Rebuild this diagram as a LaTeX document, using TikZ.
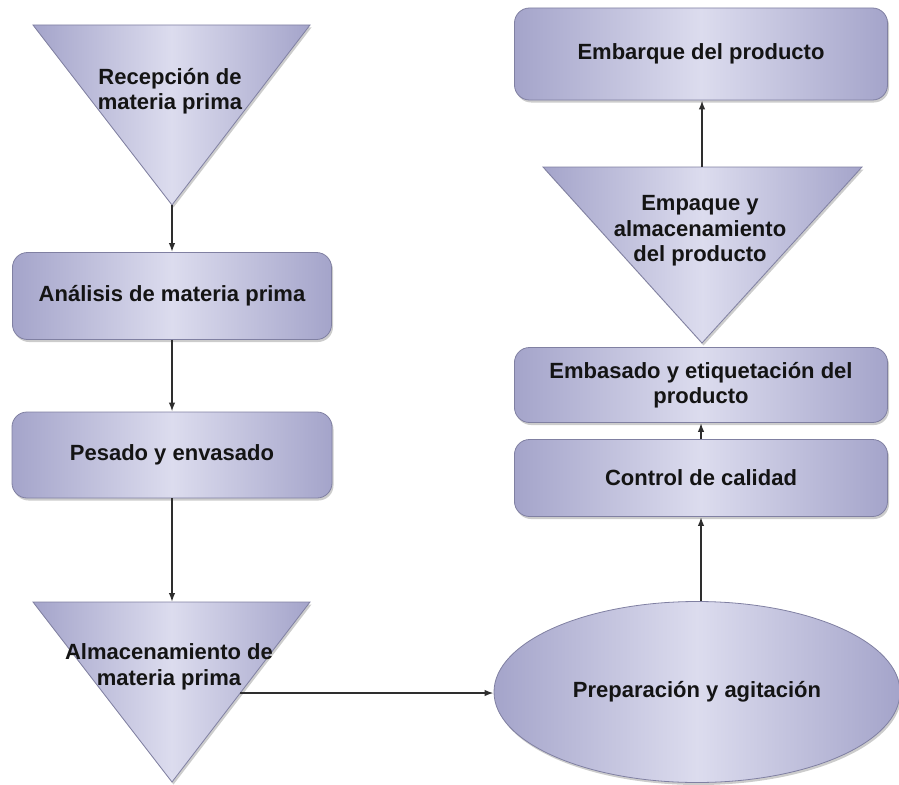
\documentclass[tikz,border=0pt]{standalone}
\usepackage{fontspec}
\setmainfont{Liberation Sans}
\usetikzlibrary{shapes.geometric,shadows,arrows.meta}
\definecolor{edgeL}{HTML}{A4A4CA}
\definecolor{midC}{HTML}{DCDCEE}
\definecolor{bord}{HTML}{8080A2}
\definecolor{arr}{HTML}{2E2E2E}
\begin{document}
\begin{tikzpicture}[x=1pt,y=1pt,
  fillgrad/.style={left color=edgeL,right color=edgeL,middle color=midC},
  shapeline/.style={draw=bord, line width=0.8pt, drop shadow={shadow xshift=1.5pt,shadow yshift=-2.5pt,opacity=0.4}},
  lbl/.style={font=\fontsize{22}{25.5}\selectfont\bfseries, text=black!92, align=center},
  stepbox/.style={shapeline, fillgrad, rounded corners=15pt, lbl, inner sep=0pt},
  conn/.style={-{Latex[length=9pt,width=6.5pt]}, line width=1.6pt, draw=arr}
]
\useasboundingbox (0,0) rectangle (899,-784);

% left column
\path[shapeline, fillgrad] (33,-25) -- (310,-25) -- (172,-205) -- cycle;
\coordinate (t1tip) at (172,-205);
\node[lbl] (t1) at (170,-91) {Recepción de\\materia prima};

\node[stepbox, minimum width=319pt, minimum height=87pt] (b1) at (172,-296) {Análisis de materia prima};
\node[stepbox, minimum width=320pt, minimum height=86pt] (b2) at (172,-455) {Pesado y envasado};

\path[shapeline, fillgrad] (33,-602) -- (310,-602) -- (172,-782) -- cycle;
\coordinate (t2top) at (172,-602);
\coordinate (t2out) at (240,-693);
\node[lbl] (t2) at (169,-667) {Almacenamiento de\\materia prima};

% right column
\node[shapeline, fillgrad, ellipse, minimum width=406pt, minimum height=181pt, inner sep=0pt, lbl] (e) at (697,-692) {Preparación y agitación};

\node[stepbox, minimum width=373pt, minimum height=77pt] (b3) at (701,-478) {Control de calidad};
\node[stepbox, minimum width=373pt, minimum height=75pt] (b4) at (701,-385) {Embasado y etiquetación del\\producto};

\path[shapeline, fillgrad] (543,-167) -- (862,-167) -- (702,-343) -- cycle;
\coordinate (t3top) at (702,-167);
\node[lbl] (t3) at (700,-231) {Empaque y\\almacenamiento\\del producto};

\node[stepbox, minimum width=373pt, minimum height=92pt] (b5) at (701,-54) {Embarque del producto};

% connectors
\draw[conn] (t1tip) -- (b1.north);
\draw[conn] (b1.south) -- (b2.north);
\draw[conn] (b2.south) -- (t2top);
\draw[conn] (t2out) -- (e.west |- t2out);
\draw[conn] (e.north -| b3.south) -- (b3.south);
\draw[conn] (b3.north) -- (b4.south);
\draw[conn] (t3top) -- (b5.south -| t3top);
\end{tikzpicture}
\end{document}
